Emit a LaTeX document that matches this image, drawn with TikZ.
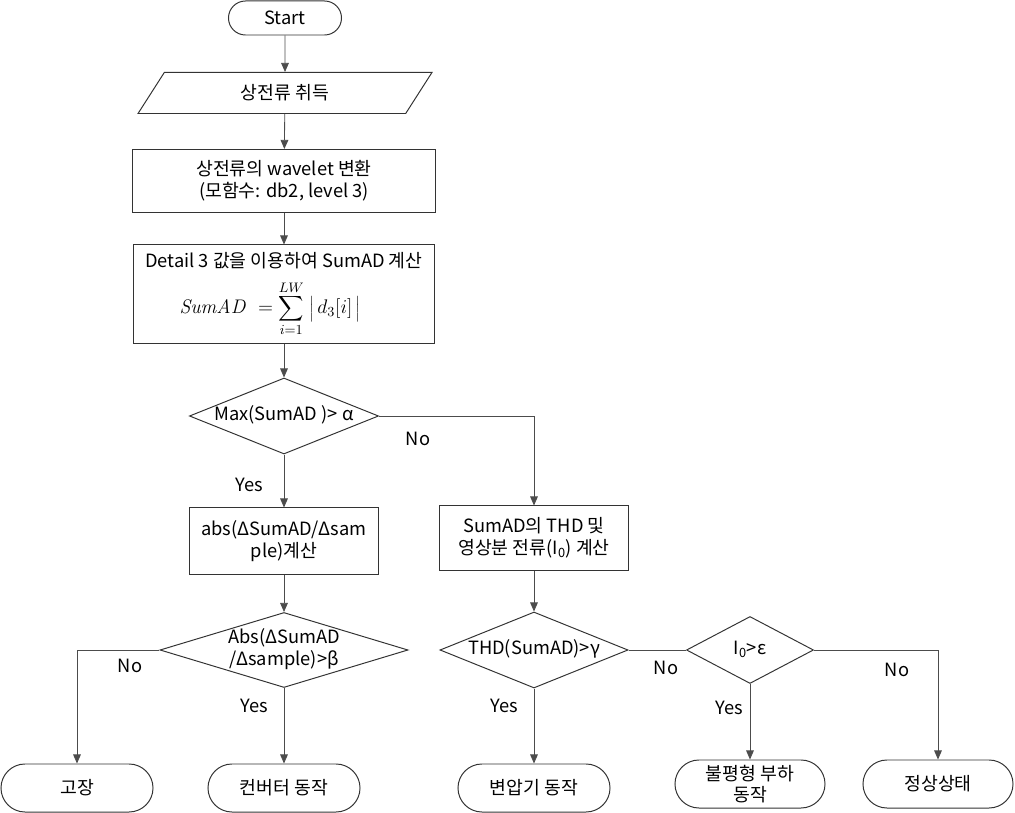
\documentclass[tikz,border=0pt]{standalone}
\usepackage[no-math]{fontspec}
\usepackage{fix-cm}
\setmainfont{Noto Sans CJK KR}
\usetikzlibrary{shapes.geometric,shapes.misc,arrows.meta}
\tikzset{
  base/.style={draw=black!80, line width=0.7pt, inner sep=0pt, align=center,
    font=\fontsize{13}{15.5}\selectfont},
  term/.style={base, rounded rectangle, minimum width=3.8cm, minimum height=1.2cm},
  io/.style={base, trapezium, trapezium left angle=60, trapezium right angle=120,
    trapezium stretches=true},
  proc/.style={base, rectangle},
  decision/.style={base, diamond},
  lbl/.style={font=\fontsize{13}{15.5}\selectfont, inner sep=1pt},
  flow/.style={draw=black!70, line width=0.6pt, -{Triangle[length=6.5pt,width=5.5pt]}},
  link/.style={draw=black!70, line width=0.6pt}
}
\newcommand{\dtext}[1]{\makebox[0pt]{\begin{tabular}{@{}c@{}}#1\end{tabular}}}
\newcommand{\bigsum}{\mathop{\vcenter{\hbox{\scalebox{1.25}{$\displaystyle\sum$}}}}\limits}
\begin{document}
\begin{tikzpicture}[x=0.025cm,y=-0.025cm]
\useasboundingbox (0,0) rectangle (1015,813);
% main column
\node[term, minimum width=2.825cm, minimum height=0.85cm] (start) at (285,18) {Start};
\node[io, minimum width=7.4cm, minimum height=1.025cm] (acq) at (285,93) {상전류 취득};
\node[proc, minimum width=7.55cm, minimum height=1.575cm] (wav) at (284,181)
  {상전류의 wavelet 변환\\(모함수: db2, level 3)};
\node[proc, minimum width=7.525cm, minimum height=2.45cm] (sumad) at (284,294)
  {Detail 3 값을 이용하여 SumAD 계산\\[8pt]
   {\fontsize{14}{16}\selectfont$\displaystyle \mathit{SumAD}\; = \bigsum_{i=1}^{LW}\; \Bigl|\,d_3[i]\,\Bigr|$}\hspace*{0.7cm}};
\node[decision, minimum width=4.725cm, minimum height=1.9cm] (dec1) at (284,416)
  {\dtext{Max(SumAD )> α}};
% left branch
\node[proc, minimum width=4.7cm, minimum height=1.65cm] (absd) at (284,541)
  {abs(ΔSumAD/Δsam\\ple)계산};
\node[decision, minimum width=6.2cm, minimum height=1.875cm] (dec2) at (284,650)
  {\dtext{Abs(ΔSumAD\\/Δsample)>β}};
\node[term] (fault) at (77,788) {고장};
\node[term] (conv) at (284,788) {컨버터 동작};
% right branch
\node[proc, minimum width=4.7cm, minimum height=1.6cm] (thd) at (534,538)
  {SumAD의 THD 및\\영상분 전류(I\textsubscript{0}) 계산};
\node[decision, minimum width=4.7cm, minimum height=1.9cm] (dec3) at (534,650)
  {\dtext{THD(SumAD)>γ}};
\node[decision, minimum width=3.175cm, minimum height=1.675cm] (dec4) at (750,650)
  {\dtext{I\textsubscript{0}>ε}};
\node[term] (trans) at (534,788) {변압기 동작};
\node[term, minimum width=3.75cm] (unbal) at (750,784) {불평형 부하\\동작};
\node[term, minimum width=3.75cm] (normal) at (938,784) {정상상태};
% connectors
\draw[flow] (start) -- (acq);
\draw[flow] (acq) -- (wav);
\draw[flow] (wav) -- (sumad);
\draw[flow] (sumad) -- (dec1);
\draw[flow] (dec1) -- (absd);
\draw[flow] (dec1.east) -| (thd.north);
\draw[flow] (absd) -- (dec2);
\draw[flow] (dec2.west) -| (fault.north);
\draw[flow] (dec2.south) -- (conv.north);
\draw[flow] (thd) -- (dec3);
\draw[flow] (dec3.south) -- (trans.north);
\draw[link] (dec3.east) -- (dec4.west);
\draw[flow] (dec4.south) -- (unbal.north);
\draw[flow] (dec4.east) -| (normal.north);
% branch labels
\node[lbl] (no1) at (418,439) {No};
\node[lbl] (yes1) at (249,485) {Yes};
\node[lbl] (no2) at (130,666) {No};
\node[lbl] (yes2) at (254,706) {Yes};
\node[lbl] (yes3) at (504,706) {Yes};
\node[lbl] (no3) at (666,668) {No};
\node[lbl] (yes4) at (729,708) {Yes};
\node[lbl] (no4) at (897,670) {No};
\end{tikzpicture}
\end{document}
